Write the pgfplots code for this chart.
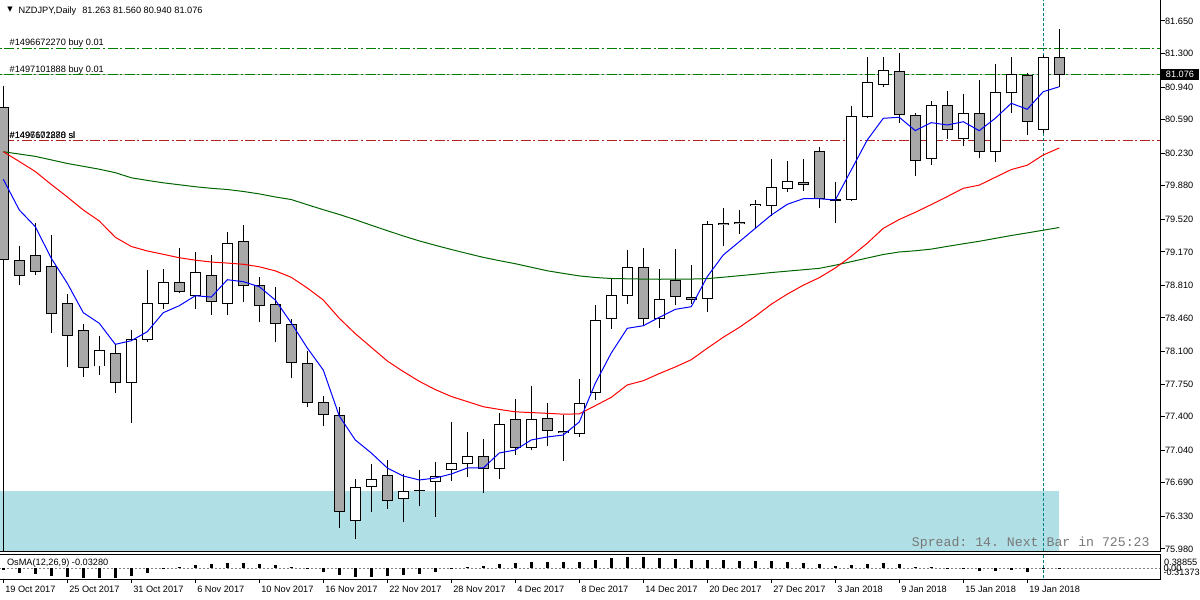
\documentclass[border=0pt]{standalone}
\usepackage{pgfplots}
\usepackage{pgfplotstable}
\pgfplotsset{compat=1.18}
\usepackage{fontspec}
\setmainfont{Liberation Sans}
\setmonofont{Liberation Mono}
\newfontfamily\dejavu{DejaVu Sans}
\definecolor{cgray}{RGB}{168,168,168}
\definecolor{zone}{RGB}{176,223,229}
\definecolor{buygreen}{RGB}{0,128,0}
\definecolor{slred}{RGB}{178,34,34}
\definecolor{magreen}{RGB}{0,100,0}
\definecolor{vteal}{RGB}{0,128,128}
\definecolor{spreadgray}{RGB}{120,120,120}
\definecolor{bidgray}{RGB}{192,192,192}

\pgfplotstableread{
i o h l c
0 80.716 80.952 78.900 79.083
1 79.083 79.233 78.811 78.919
2 79.133 79.477 78.919 78.961
3 79.018 79.348 78.302 78.503
4 78.618 78.718 77.930 78.274
5 78.331 78.395 77.829 77.930
6 77.944 78.267 77.851 78.116
7 78.081 78.181 77.651 77.769
8 77.769 78.331 77.335 78.224
9 78.231 78.975 78.202 78.618
10 78.618 78.983 78.560 78.843
11 78.843 79.212 78.732 78.747
12 78.704 79.169 78.560 78.951
13 78.919 79.133 78.495 78.639
14 78.618 79.384 78.489 79.262
15 79.284 79.456 78.632 78.804
16 78.804 78.904 78.420 78.589
17 78.610 78.796 78.202 78.403
18 78.395 78.452 77.812 77.984
19 77.973 78.105 77.507 77.554
20 77.554 77.622 77.303 77.426
21 77.418 77.501 76.208 76.384
22 76.283 76.727 76.089 76.641
23 76.652 76.892 76.379 76.727
24 76.770 76.935 76.412 76.502
25 76.523 76.784 76.272 76.598
26 76.612 76.827 76.444 76.606
27 76.706 76.913 76.326 76.760
28 76.835 77.343 76.712 76.899
29 76.899 77.235 76.749 76.974
30 76.974 77.160 76.583 76.845
31 76.845 77.436 76.727 77.318
32 77.372 77.587 76.992 77.071
33 77.071 77.730 77.042 77.372
34 77.383 77.544 77.088 77.254
35 77.246 77.415 76.927 77.225
36 77.221 77.802 77.185 77.544
37 77.662 78.600 77.582 78.435
38 78.452 78.886 78.345 78.704
39 78.704 79.190 78.610 79.004
40 79.004 79.209 78.385 78.452
41 78.452 78.986 78.356 78.661
42 78.868 79.201 78.600 78.693
43 78.682 79.029 78.610 78.661
44 78.671 79.502 78.528 79.466
45 79.480 79.638 79.236 79.462
46 79.491 79.620 79.362 79.477
47 79.670 79.727 79.416 79.684
48 79.670 80.168 79.556 79.864
49 79.853 80.146 79.816 79.928
50 79.917 80.168 79.827 79.896
51 80.250 80.300 79.638 79.746
52 79.735 79.917 79.477 79.724
53 79.735 80.734 79.713 80.626
54 80.626 81.263 80.605 80.992
55 80.970 81.263 80.938 81.120
56 81.110 81.306 80.558 80.648
57 80.637 80.659 79.988 80.154
58 80.175 80.791 80.107 80.745
59 80.745 80.898 80.386 80.487
60 80.383 80.866 80.311 80.659
61 80.659 81.016 80.175 80.250
62 80.250 81.188 80.139 80.884
63 80.884 81.263 80.665 81.077
64 81.067 81.091 80.422 80.573
65 80.487 81.282 80.444 81.260
66 81.263 81.560 80.940 81.076
}\candles

\pgfplotstableread{
i blue red green
0 79.950 80.246 80.246
1 79.620 80.141 80.221
2 79.441 80.033 80.196
3 79.101 79.894 80.158
4 78.833 79.760 80.120
5 78.517 79.620 80.089
6 78.403 79.502 80.058
7 78.177 79.327 80.021
8 78.216 79.228 79.966
9 78.313 79.180 79.938
10 78.517 79.144 79.912
11 78.592 79.107 79.891
12 78.699 79.081 79.870
13 78.685 79.061 79.853
14 78.871 79.050 79.840
15 78.850 79.037 79.819
16 78.796 79.010 79.793
17 78.653 78.966 79.760
18 78.406 78.897 79.732
19 78.138 78.782 79.677
20 77.901 78.653 79.623
21 77.407 78.457 79.572
22 77.150 78.292 79.516
23 77.010 78.145 79.456
24 76.849 77.998 79.398
25 76.763 77.885 79.341
26 76.720 77.780 79.288
27 76.741 77.691 79.241
28 76.784 77.617 79.196
29 76.849 77.562 79.153
30 76.849 77.507 79.111
31 77.010 77.478 79.076
32 77.042 77.452 79.043
33 77.150 77.444 79.005
34 77.182 77.436 78.967
35 77.203 77.427 78.939
36 77.343 77.430 78.912
37 77.759 77.518 78.895
38 78.084 77.608 78.884
39 78.349 77.741 78.881
40 78.377 77.786 78.878
41 78.467 77.863 78.876
42 78.553 77.934 78.877
43 78.581 78.012 78.878
44 78.904 78.135 78.883
45 79.137 78.253 78.898
46 79.279 78.359 78.914
47 79.423 78.478 78.930
48 79.566 78.608 78.948
49 79.681 78.716 78.963
50 79.741 78.812 78.978
51 79.741 78.893 78.993
52 79.727 78.997 79.027
53 80.050 79.123 79.065
54 80.372 79.263 79.104
55 80.605 79.423 79.142
56 80.616 79.518 79.169
57 80.472 79.595 79.182
58 80.558 79.678 79.200
59 80.533 79.764 79.229
60 80.568 79.853 79.257
61 80.472 79.887 79.284
62 80.605 79.971 79.315
63 80.766 80.054 79.346
64 80.702 80.101 79.374
65 80.891 80.211 79.403
66 80.944 80.286 79.432
}\mas

\pgfplotstableread{
i v
0 -0.070
1 -0.146
2 -0.179
3 -0.246
4 -0.280
5 -0.310
6 -0.310
7 -0.310
8 -0.246
9 -0.146
10 -0.034
11 0.034
12 0.100
13 0.134
14 0.168
15 0.168
16 0.134
17 0.100
18 0.034
19 -0.034
20 -0.112
21 -0.213
22 -0.280
23 -0.280
24 -0.246
25 -0.213
26 -0.179
27 -0.112
28 -0.034
29 0.034
30 0.067
31 0.134
32 0.168
33 0.200
34 0.200
35 0.200
36 0.200
37 0.270
38 0.336
39 0.389
40 0.389
41 0.336
42 0.300
43 0.270
44 0.270
45 0.270
46 0.235
47 0.235
48 0.235
49 0.200
50 0.168
51 0.134
52 0.067
53 0.100
54 0.134
55 0.168
56 0.134
57 0.056
58 0.034
59 0.010
60 -0.034
61 -0.100
62 -0.100
63 -0.067
64 -0.112
65 -0.034
66 -0.033
}\osma

\begin{document}
\begin{tikzpicture}[font=\fontsize{4.6}{5.5}\selectfont]
\path[use as bounding box] (0,0) rectangle (600pt,300pt);
% ---------------- main price panel ----------------
\begin{axis}[
  at={(0pt,24pt)}, anchor=south west,
  scale only axis, width=580.35pt, height=276pt,
  xmin=-0.206, xmax=72.34, ymin=75.9465, ymax=81.8756,
  axis line style={draw=none},
  xtick=\empty,
  ytick={81.650,81.300,80.940,80.590,80.230,79.880,79.520,79.170,78.810,78.460,78.100,77.750,77.400,77.040,76.690,76.330,75.980},
  ytick pos=right, yticklabel pos=right,
  /pgf/number format/assume math mode=true,
  yticklabel style={/pgf/number format/fixed, /pgf/number format/fixed zerofill, /pgf/number format/precision=3, anchor=west, inner sep=0pt, font=\fontsize{4.6}{5.5}\selectfont},
  tick align=outside, major tick length=2pt,
  tick style={black, line width=0.5pt},
  clip mode=individual,
]
% zone
\addplot[forget plot, fill=zone, draw=none] coordinates {(-1,76.602) (66,76.602)} \closedcycle;
% order lines
\addplot[forget plot, bidgray, line width=0.5pt] coordinates {(-1,81.076) (73,81.076)};
\addplot[forget plot, buygreen, line width=0.5pt, dash pattern=on 5pt off 1.3pt on 1pt off 1.3pt] coordinates {(-1,81.357) (73,81.357)};
\addplot[forget plot, buygreen, line width=0.5pt, dash pattern=on 5pt off 1.3pt on 1pt off 1.3pt] coordinates {(-1,81.074) (73,81.074)};
\addplot[forget plot, slred, line width=0.5pt, dash pattern=on 5pt off 1.3pt on 1pt off 1.3pt] coordinates {(-1,80.369) (73,80.369)};
% vertical line
\addplot[forget plot, vteal, line width=0.5pt, dash pattern=on 1.5pt off 1pt] coordinates {(65,75.9) (65,81.9)};
% left edge line
\addplot[forget plot, black, line width=0.5pt] coordinates {(0,80.952) (0,75.9)};
% wicks
\addplot[forget plot, draw=none, mark=none, error bars/.cd, y dir=plus, y explicit, error mark=none, error bar style={draw=black, solid, line width=0.55pt}]
  table[x=i, y=l, y error expr=\thisrow{h}-\thisrow{l}] {\candles};
% body outlines
\addplot[forget plot, draw=none, mark=none, error bars/.cd, y dir=plus, y explicit, error mark=none, error bar style={draw=black, solid, line width=5.4pt}]
  table[x=i, y expr={min(\thisrow{o},\thisrow{c})-0.005}, y error expr={abs(\thisrow{c}-\thisrow{o})+0.010}] {\candles};
% bull bodies
\addplot[forget plot, draw=none, mark=none, restrict expr to domain={\thisrow{c}-\thisrow{o}}{0.012:100}, error bars/.cd, y dir=plus, y explicit, error mark=none, error bar style={draw=white, solid, line width=4.4pt}]
  table[x=i, y expr={\thisrow{o}+0.0055}, y error expr={\thisrow{c}-\thisrow{o}-0.011}] {\candles};
% bear bodies
\addplot[forget plot, draw=none, mark=none, restrict expr to domain={\thisrow{o}-\thisrow{c}}{0.012:100}, error bars/.cd, y dir=plus, y explicit, error mark=none, error bar style={draw=cgray, solid, line width=4.4pt}]
  table[x=i, y expr={\thisrow{c}+0.0055}, y error expr={\thisrow{o}-\thisrow{c}-0.011}] {\candles};
% moving averages
\addplot[forget plot, magreen, line width=0.5pt] table[x=i, y=green] {\mas};
\addplot[forget plot, red, line width=0.5pt] table[x=i, y=red] {\mas};
\addplot[forget plot, blue, line width=0.5pt] table[x=i, y=blue] {\mas};
% frame
\draw[black, line width=0.5pt] (rel axis cs:0,0) -- (rel axis cs:1,0) -- (rel axis cs:1,1);
% texts
\node[anchor=center, inner sep=0pt] at (axis cs:0.42,81.768) {\dejavu\fontsize{3.5}{4}\selectfont ▼};
\node[anchor=west, inner sep=0pt] at (axis cs:0.94,81.758) {NZDJPY,Daily\hspace{3pt}81.263 81.560 80.940 81.076};
\node[anchor=west, inner sep=0pt] at (axis cs:0.375,81.414) {\#1496672270 buy 0.01};
\node[anchor=west, inner sep=0pt] at (axis cs:0.375,81.124) {\#1497101888 buy 0.01};
\node[anchor=west, inner sep=0pt] at (axis cs:0.375,80.425) {\#1496672270 sl};
\node[anchor=west, inner sep=0pt] at (axis cs:0.375,80.425) {\#1497101888 sl};
\node[anchor=east, inner sep=0pt, text=spreadgray] at (axis cs:71.67,76.043) {\ttfamily\fontsize{6.6}{7}\selectfont Spread: 14. Next Bar in 725:23};
\node[anchor=west, fill=black, text=white, inner xsep=2.4pt, inner ysep=1.1pt] at (axis cs:72.34,81.076) {81.076};
\end{axis}
% ---------------- OsMA panel ----------------
\begin{axis}[
  at={(0pt,10.5pt)}, anchor=south west,
  scale only axis, width=580.35pt, height=12.5pt,
  xmin=-0.206, xmax=72.34, ymin=-0.356, ymax=0.476,
  axis line style={draw=none},
  ytick=\empty,
  xtick={0,4,...,64},
  xticklabels={19 Oct 2017, 25 Oct 2017, 31 Oct 2017, 6 Nov 2017, 10 Nov 2017, 16 Nov 2017, 22 Nov 2017, 28 Nov 2017, 4 Dec 2017, 8 Dec 2017, 14 Dec 2017, 20 Dec 2017, 27 Dec 2017, 3 Jan 2018, 9 Jan 2018, 15 Jan 2018, 19 Jan 2018},
  xtick pos=bottom, tick align=outside, major tick length=2pt,
  tick style={black, line width=0.5pt},
  xticklabel style={anchor=north west, inner sep=0pt, xshift=0.8pt, yshift=-1.5pt, font=\fontsize{4.6}{5.5}\selectfont},
  clip mode=individual,
]
\addplot[forget plot, gray, line width=0.5pt, dash pattern=on 1pt off 1pt] coordinates {(-1,0) (73,0)};
\addplot[forget plot, vteal, line width=0.5pt, dash pattern=on 1.5pt off 1pt] coordinates {(65,-0.5) (65,0.5)};
\addplot[forget plot, ycomb, black, line width=1.3pt, mark=none] table[x=i, y=v] {\osma};
\draw[black, line width=0.5pt] (rel axis cs:0,1) -- (rel axis cs:1,1) -- (rel axis cs:1,0) -- (rel axis cs:0,0);
\node[anchor=west, inner sep=0pt] at (axis cs:0.21,0.176) {OsMA(12,26,9) -0.03280};
\node[anchor=west, inner sep=0pt, xshift=1.5pt] at (axis cs:72.34,0.20) {0.38855};
\node[anchor=west, inner sep=0pt, xshift=1.2pt] at (axis cs:72.34,0.0) {0.00};
\node[anchor=west, inner sep=0pt, xshift=1.2pt] at (axis cs:72.34,-0.147) {-0.31373};
\end{axis}
\end{tikzpicture}
\end{document}
